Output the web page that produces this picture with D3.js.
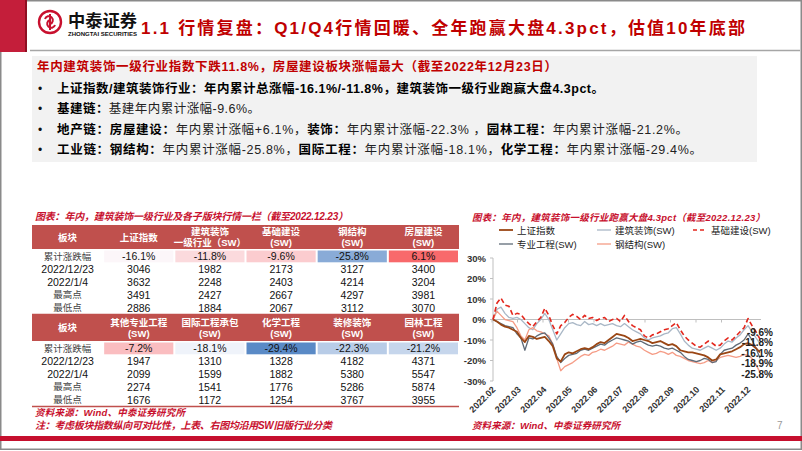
<!DOCTYPE html>
<html><head><meta charset="utf-8">
<script src="https://cdn.jsdelivr.net/npm/d3@7"></script>
<style>
html,body{margin:0;padding:0;background:#fff;}
svg{display:block;}
text{font-family:"Liberation Sans","Noto Sans CJK SC",sans-serif;}
</style></head><body>
<svg id="c" width="802" height="451"></svg>
<script>
// ---------------- data ----------------
const pageTitle = "1.1 行情复盘：Q1/Q4行情回暖、全年跑赢大盘4.3pct，估值10年底部";
const boxHeadline = "年内建筑装饰一级行业指数下跌11.8%，房屋建设板块涨幅最大（截至2022年12月23日）";
const bulletLines = [
  [["上证指数/建筑装饰行业：年内累计总涨幅-16.1%/-11.8%，建筑装饰一级行业跑赢大盘4.3pct。", true]],
  [["基建链：", true], ["基建年内累计涨幅-9.6%。", false]],
  [["地产链：房屋建设：", true], ["年内累计涨幅+6.1%，", false], ["装饰：", true], ["年内累计涨幅-22.3% ，", false], ["园林工程：", true], ["年内累计涨幅-21.2%。", false]],
  [["工业链：钢结构：", true], ["年内累计涨幅-25.8%，", false], ["国际工程：", true], ["年内累计涨幅-18.1%，", false], ["化学工程：", true], ["年内累计涨幅-29.4%。", false]]
];

const tableCaption = "图表：年内，建筑装饰一级行业及各子版块行情一栏（截至2022.12.23）";
const rowLabels = ["累计涨跌幅", "2022/12/23", "2022/1/4", "最高点", "最低点"];
const t1Header = [["板块"], ["上证指数"], ["建筑装饰", "一级行业（SW）"], ["基础建设", "(SW)"], ["钢结构", "(SW)"], ["房屋建设", "(SW)"]];
const t1Change = [-16.1, -11.8, -9.6, -25.8, 6.1];
const t1Close = [3046, 1982, 2173, 3127, 3400];
const t1Start = [3632, 2248, 2403, 4214, 3204];
const t1High = [3491, 2427, 2667, 4297, 3981];
const t1Low = [2886, 1884, 2067, 3112, 3070];
const t2Header = [["板块"], ["其他专业工程", "(SW)"], ["国际工程承包", "(SW)"], ["化学工程", "(SW)"], ["装修装饰", "(SW)"], ["园林工程", "(SW)"]];
const t2Change = [-7.2, -18.1, -29.4, -22.3, -21.2];
const t2Close = [1947, 1310, 1328, 4182, 4371];
const t2Start = [2099, 1599, 1882, 5380, 5547];
const t2High = [2274, 1541, 1776, 5286, 5874];
const t2Low = [1676, 1172, 1254, 3767, 3955];
const sourceLeft = "资料来源：Wind、中泰证券研究所";
const noteLeft = "注：考虑板块指数纵向可对比性，上表、右图均沿用SW旧版行业分类";

const chartCaption = "图表：年内，建筑装饰一级行业跑赢大盘4.3pct（截至2022.12.23）";
const sourceRight = "资料来源：Wind、中泰证券研究所";
const xLabels = ["2022.02","2022.03","2022.04","2022.05","2022.06","2022.07","2022.08","2022.09","2022.10","2022.11","2022.12"];
const yTicks = [30, 20, 10, 0, -10, -20, -30];
const seriesNames = ["上证指数", "建筑装饰(SW)", "基础建设(SW)", "专业工程(SW)", "钢结构(SW)"];
const shIndex = [0,-1,-2.5,-3.5,-4,-5,-6,-9,-11,-8,-8.5,-9.5,-9,-8.5,-10.5,-13,-19,-20.5,-17,-16,-16.5,-15.5,-14.5,-14,-14.5,-13.5,-12,-11,-11.5,-10,-8.5,-7,-7.5,-8,-9,-10.5,-10,-9.5,-10,-10.5,-11.5,-11,-10.5,-11.5,-12.5,-12,-13,-15,-15.5,-16,-16,-16.5,-17,-17.5,-18.5,-20,-19.5,-17,-16.5,-16,-15.5,-14.5,-13.5,-12,-11.5,-12.5,-14,-16.1];
const buildDeco = [0,5,6,3,1,0.5,1,0,-2,-4,-5,-2,0,3,0,-5,-10,-7,-4,-2,-1.5,-2.5,-3,-1,-2.5,-2,-3,-2,-3,-2.5,-2,-3,-3.5,-2,-3.5,-5,-6,-7,-9,-10,-9,-8.5,-8,-7,-6.5,-4.5,-4,-7,-10.5,-12.5,-14,-14.5,-15,-14,-13,-14,-15,-14,-12,-10.5,-11,-9,-7.5,-5,-3,-6,-9,-11.8];
const infra = [0,8,10.5,7,6.5,2,3,2.5,0,-2,-3.5,-1,1,5.5,2,-3,-7,-3,-1.5,1,2.5,1.5,0,2,0.5,1,-0.5,0.5,1,-1,0,0.5,-1,2,-1,-3,-4,-5,-8,-9,-7.5,-7,-6,-5,-4.5,-3,-1.5,-5,-8,-10,-11.5,-13,-13.5,-12,-10.5,-11.5,-13,-12.5,-10.5,-9,-10,-8,-6,-4,0.5,-3,-6,-9.6];
const specEng = [0,-1,-2,-3,-3.5,-4,-7,-9,-15,-9,-9.5,-8,-7,-6.5,-9,-12,-18,-21,-19,-17.5,-17,-16.5,-15,-14.5,-15,-14,-13,-12,-12.5,-11,-10,-9,-9.5,-10,-10.5,-12,-11,-10.5,-11.5,-12.5,-13,-12.5,-13,-14,-14.5,-14,-15,-16,-18,-19.5,-20,-20.5,-20,-19,-19.5,-21,-20.5,-17,-15,-14.5,-14,-12.5,-11.5,-10,-7,-10,-14,-18.9];
const steel = [0,4,2,0,-0.5,-1,-4,-8,-10,-5,-4,-5.5,-6,-7,-8,-12,-19,-25,-23,-22,-21,-19.5,-18,-17,-17.5,-16,-15.5,-14.5,-15,-14,-13,-11.5,-12,-12.5,-11,-12,-13,-13.5,-15,-16,-17,-16.5,-15.5,-16,-17,-16,-17.5,-18,-19,-20,-20.5,-21,-21.5,-21,-20,-21,-20,-18.5,-18,-17.5,-18,-18.5,-18,-17,-17.5,-19,-22,-25.8];

// ---------------- drawing ----------------
const svg = d3.select("#c");
const RED = "#C00000", CAP = "#C8102E";

// frame
svg.append("rect").attr("x",0.75).attr("y",0.75).attr("width",800.5).attr("height",448.5)
  .attr("fill","#fff").attr("stroke","#8a8a8a").attr("stroke-width",1.5);
// header block
svg.append("rect").attr("x",0).attr("y",0).attr("width",25).attr("height",52).attr("fill","#C41E3A");
svg.append("rect").attr("x",25).attr("y",0).attr("width",2).attr("height",52).attr("fill","#8E0F22");
svg.append("line").attr("x1",30).attr("x2",800).attr("y1",50.5).attr("y2",50.5).attr("stroke","#a6a6a6").attr("stroke-width",1.5);
// logo
const lg = svg.append("g").attr("transform","translate(50,22)");
lg.append("circle").attr("r",11).attr("fill","none").attr("stroke","#C8102E").attr("stroke-width",2.4);
lg.append("path").attr("d","M-5,-3 a4,4 0 1,1 5,5 M5,3 a4,4 0 1,1 -5,-5 M0,-8 L0,8").attr("fill","none").attr("stroke","#C8102E").attr("stroke-width",2);
svg.append("text").attr("x",68).attr("y",27).attr("font-size",17).attr("font-weight",700).attr("fill","#111")
  .attr("textLength",69).attr("lengthAdjust","spacingAndGlyphs").text("中泰证券");
svg.append("text").attr("x",68).attr("y",35.5).attr("font-size",5).attr("font-weight",700).attr("fill","#111")
  .attr("textLength",69).attr("lengthAdjust","spacingAndGlyphs").text("ZHONGTAI SECURITIES");
svg.append("text").attr("x",141).attr("y",34).attr("font-size",17).attr("font-weight",700).attr("fill",RED)
  .attr("textLength",604).attr("lengthAdjust","spacing").text(pageTitle);

// text box
svg.append("rect").attr("x",32).attr("y",56).attr("width",725).attr("height",106).attr("fill","#F2F2F2");
svg.append("text").attr("x",37).attr("y",70.5).attr("font-size",12.5).attr("font-weight",700).attr("fill",RED)
  .attr("textLength",520).attr("lengthAdjust","spacing").text(boxHeadline);
const bulletY = [92.5, 112.5, 133.5, 153.5];
const bulletEnd = [604, 260, 688, 702];
bulletLines.forEach((segs, i) => {
  svg.append("text").attr("x",38).attr("y",bulletY[i]).attr("font-size",12).attr("fill","#111").text("•");
  const t = svg.append("text").attr("x",57).attr("y",bulletY[i]).attr("font-size",12.5).attr("fill","#111")
    .attr("textLength",bulletEnd[i]-57).attr("lengthAdjust","spacing");
  segs.forEach(s => t.append("tspan").attr("font-weight", s[1] ? 700 : 400).attr("fill", s[1] ? "#000" : "#222").text(s[0]));
});

// ---------------- tables ----------------
svg.append("text").attr("x",35).attr("y",220).attr("font-size",10).attr("font-style","italic").attr("font-weight",700)
  .attr("fill",CAP).attr("textLength",313).attr("lengthAdjust","spacing").text(tableCaption);

const allChanges = t1Change.concat(t2Change);
const colorScale = d3.scaleLinear()
  .domain([d3.min(allChanges), d3.median(allChanges), d3.max(allChanges)])
  .range(["#5A8AC6", "#FCFCFF", "#F8696B"]);
const colX = d3.scaleBand().domain(d3.range(6)).range([32, 459]);
const fmtPct = v => v.toFixed(1) + "%";

function drawTable(top, headH, header, change, close, start, high, low) {
  const g = svg.append("g");
  g.append("rect").attr("x",32).attr("y",top).attr("width",427).attr("height",headH).attr("fill","#C0504D");
  header.forEach((lines, c) => {
    const cx = colX(c) + colX.bandwidth()/2;
    const n = lines.length;
    lines.forEach((ln, k) => {
      g.append("text").attr("x",cx).attr("y", top + headH/2 + (k - (n-1)/2) * 11)
        .attr("text-anchor","middle").attr("dominant-baseline","central")
        .attr("font-size",9.5).attr("font-weight",700).attr("fill","#fff").text(ln);
    });
  });
  const rowY = d3.scaleBand().domain(d3.range(5)).range([top + headH + 1, top + headH + 1 + 64]);
  const rows = [change.map(fmtPct), close, start, high, low];
  rowLabels.forEach((lab, r) => {
    const cy = rowY(r) + rowY.bandwidth()/2;
    const isCn = /[\u4e00-\u9fff]/.test(lab);
    g.append("text").attr("x", colX(0) + colX.bandwidth()/2).attr("y", cy)
      .attr("text-anchor","middle").attr("dominant-baseline","central")
      .attr("font-size", isCn ? 9.5 : 10.5).attr("fill", isCn ? "#444" : "#111").text(lab);
    rows[r].forEach((v, c) => {
      const x0 = colX(c+1);
      if (r === 0) {
        g.append("rect").attr("x", x0 + 1).attr("y", rowY(0) + 0.5).attr("width", colX.bandwidth() - 2)
          .attr("height", rowY.bandwidth() - 1).attr("fill", colorScale(change[c]));
      }
      g.append("text").attr("x", x0 + colX.bandwidth()/2).attr("y", cy)
        .attr("text-anchor","middle").attr("dominant-baseline","central")
        .attr("font-size",10.5).attr("fill","#111").text(v);
    });
  });
  g.append("line").attr("x1",32).attr("x2",459).attr("y1",top + headH + 65.5).attr("y2",top + headH + 65.5)
    .attr("stroke","#C0504D").attr("stroke-width",1.5);
}
drawTable(225, 24, t1Header, t1Change, t1Close, t1Start, t1High, t1Low);
drawTable(314, 27, t2Header, t2Change, t2Close, t2Start, t2High, t2Low);

svg.append("text").attr("x",35).attr("y",416).attr("font-size",9.5).attr("font-style","italic").attr("font-weight",700)
  .attr("fill",CAP).attr("textLength",150).attr("lengthAdjust","spacing").text(sourceLeft);
svg.append("text").attr("x",35).attr("y",429).attr("font-size",10).attr("font-style","italic").attr("font-weight",700)
  .attr("fill",CAP).attr("textLength",297).attr("lengthAdjust","spacing").text(noteLeft);

// ---------------- line chart ----------------
svg.append("text").attr("x",472).attr("y",221).attr("font-size",9.5).attr("font-style","italic").attr("font-weight",700)
  .attr("fill",CAP).attr("textLength",293).attr("lengthAdjust","spacing").text(chartCaption);

const seriesData = [shIndex, buildDeco, infra, specEng, steel];
const seriesStyle = [
  {color:"#9A4614", width:1.8, dash:null},
  {color:"#A9B7C6", width:1.3, dash:null},
  {color:"#E3261C", width:1.6, dash:"5,3"},
  {color:"#5F6B78", width:1.3, dash:null},
  {color:"#F59C86", width:1.3, dash:null}
];
const n = shIndex.length;
const x = d3.scaleLinear().domain([0, n-1]).range([493, 760]);
const y = d3.scaleLinear().domain([-30, 30]).range([381, 258]);
const xt = d3.scalePoint().domain(xLabels).range([492, 747]);

// legend
const legPos = [[499,230],[597,230],[693,230],[499,244],[597,244]];
seriesNames.forEach((nm, i) => {
  const [lx, ly] = legPos[i], st = seriesStyle[i];
  svg.append("line").attr("x1",lx).attr("x2",lx+14).attr("y1",ly).attr("y2",ly)
    .attr("stroke",st.color).attr("stroke-width",st.width).attr("stroke-dasharray",st.dash ? "4,3" : null);
  svg.append("text").attr("x",lx+18).attr("y",ly).attr("dominant-baseline","central")
    .attr("font-size",9.5).attr("fill","#222").text(nm);
});

// y axis
svg.append("line").attr("x1",493).attr("x2",493).attr("y1",y(30)).attr("y2",y(-30)).attr("stroke","#BFBFBF").attr("stroke-width",1);
yTicks.forEach(t => {
  svg.append("line").attr("x1",490).attr("x2",493).attr("y1",y(t)).attr("y2",y(t)).attr("stroke","#BFBFBF");
  svg.append("text").attr("x",486).attr("y",y(t)).attr("text-anchor","end").attr("dominant-baseline","central")
    .attr("font-size",9.5).attr("font-weight",700).attr("fill","#333").text(t + "%");
});
// x axis at 0
svg.append("line").attr("x1",493).attr("x2",761).attr("y1",y(0)).attr("y2",y(0)).attr("stroke","#BFBFBF").attr("stroke-width",1.2);
xLabels.forEach(l => {
  svg.append("line").attr("x1",xt(l)).attr("x2",xt(l)).attr("y1",y(0)).attr("y2",y(0)+3).attr("stroke","#BFBFBF");
  svg.append("text").attr("transform",`translate(${xt(l)+2},${y(-30)+7}) rotate(-45)`)
    .attr("text-anchor","end").attr("dominant-baseline","central")
    .attr("font-size",9).attr("font-weight",700).attr("fill","#333").text(l);
});

// lines
const lineGen = d3.line().x((d,i) => x(i)).y(d => y(d));
const order = [1, 4, 3, 0, 2];
order.forEach(i => {
  const st = seriesStyle[i];
  svg.append("path").datum(seriesData[i]).attr("d", lineGen).attr("fill","none")
    .attr("stroke",st.color).attr("stroke-width",st.width).attr("stroke-dasharray",st.dash)
    .attr("stroke-linejoin","round");
});

// end labels with simple overlap relaxation
const finals = seriesData.map(s => ({v: s[s.length-1], y: y(s[s.length-1])}));
finals.sort((a,b) => a.y - b.y);
for (let it = 0; it < 60; it++) {
  for (let i = 1; i < finals.length; i++) {
    const d = finals[i].y - finals[i-1].y;
    if (d < 10.5) { const s = (10.5 - d)/2; finals[i].y += s; finals[i-1].y -= s; }
  }
}
finals.forEach(f => {
  svg.append("text").attr("x",773).attr("y",f.y).attr("text-anchor","end").attr("dominant-baseline","central")
    .attr("font-size",10).attr("font-weight",700).attr("fill","#222").text(fmtPct(f.v));
});

svg.append("text").attr("x",472).attr("y",429).attr("font-size",9.5).attr("font-style","italic").attr("font-weight",700)
  .attr("fill",CAP).attr("textLength",148).attr("lengthAdjust","spacing").text(sourceRight);

// footer
svg.append("text").attr("x",777).attr("y",429).attr("font-size",10).attr("fill","#999").text("7");
svg.append("rect").attr("x",0).attr("y",436).attr("width",802).attr("height",5).attr("fill","#C6102E");
</script>
</body></html>
